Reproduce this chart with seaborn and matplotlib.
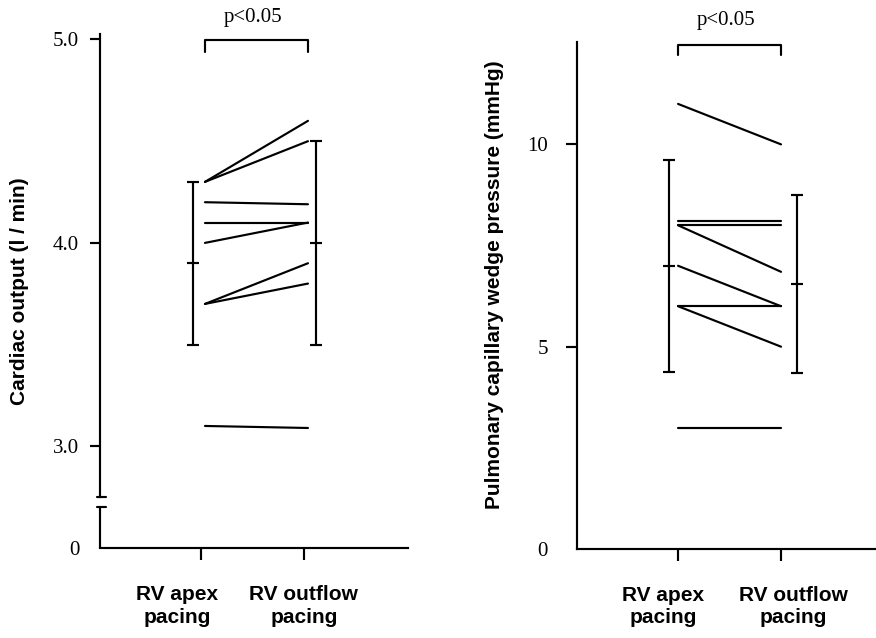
import numpy as np
import pandas as pd
import matplotlib
matplotlib.use("Agg")
import matplotlib.pyplot as plt
import matplotlib.transforms as mtransforms
import seaborn as sns

# ---------------- data ----------------
conditions = ["RV apex\npacing", "RV outflow\npacing"]

co_apex = [4.3, 4.3, 4.2, 4.1, 4.0, 3.7, 3.7, 3.1]
co_outflow = [4.6, 4.5, 4.19, 4.1, 4.1, 3.9, 3.8, 3.09]
co_mean = [3.9, 4.0]
co_sd = [0.4, 0.5]

pcwp_apex = [11.0, 8.1, 8.0, 8.0, 7.0, 6.0, 6.0, 3.0]
pcwp_outflow = [10.0, 8.1, 8.0, 6.85, 6.0, 6.0, 5.0, 3.0]
pcwp_mean = [7.0, 6.55]
pcwp_sd = [2.62, 2.2]

# left axis is broken: the value 2.5 on the axis stands for "0"
co_ticks = [2.5, 3.0, 4.0, 5.0]
co_ticklabels = ["0", "3.0", "4.0", "5.0"]
pcwp_ticks = [0, 5, 10]
pcwp_ticklabels = ["0", "5", "10"]

p_text = "p<0.05"
co_ylabel = "Cardiac output (l / min)"
pcwp_ylabel = "Pulmonary capillary wedge pressure (mmHg)"


def long_df(a, b):
    rows = []
    for i, (va, vb) in enumerate(zip(a, b)):
        rows.append({"patient": i, "pos": 0, "value": va})
        rows.append({"patient": i, "pos": 1, "value": vb})
    return pd.DataFrame(rows)


sns.set_theme(style="ticks")
plt.rcParams["font.family"] = ["Liberation Serif", "DejaVu Serif"]
for k in ["text.color", "axes.labelcolor", "xtick.color", "ytick.color",
          "axes.edgecolor"]:
    plt.rcParams[k] = "black"

LW = 1.55
SERIF = "Liberation Serif"
SANS = "Liberation Sans"

fig = plt.figure(figsize=(8.76, 6.38), dpi=100)
axL = fig.add_axes([100 / 876, 1 - 548 / 638, 308 / 876, 514 / 638])
axR = fig.add_axes([577 / 876, 1 - 549 / 638, 299 / 876, 507 / 638])


def panel(ax, a, b, mean, sd, err_x, xlim, ylim, ticks, ticklabels,
          xtick_pos, lab_x, br_top, br_drop, p_y, ylen, ypad):
    df = long_df(a, b)
    sns.lineplot(data=df, x="pos", y="value", units="patient", estimator=None,
                 color="black", lw=LW, ax=ax, legend=False)
    ax.errorbar(err_x, mean, yerr=sd, fmt="_", ms=9, mew=LW, capsize=4.5,
                capthick=LW, elinewidth=LW, color="black")
    ax.set_xlim(*xlim)
    ax.set_ylim(*ylim)
    for s in ["top", "right"]:
        ax.spines[s].set_visible(False)
    for s in ["left", "bottom"]:
        ax.spines[s].set_linewidth(LW)
        ax.spines[s].set_color("black")
    ax.set_yticks(ticks)
    ax.set_yticklabels(ticklabels, fontfamily=SERIF, fontsize=15,
                       color="black")
    ax.tick_params(axis="y", length=ylen, width=LW, pad=ypad, color="black")
    ax.yaxis.get_major_ticks()[0].tick1line.set_visible(False)
    ax.set_xticks(xtick_pos)
    ax.set_xticklabels(["", ""])
    ax.tick_params(axis="x", length=8.5, width=LW, color="black")
    ax.set_xlabel("")
    ax.set_ylabel("")
    ax.grid(False)
    # category labels
    trans = mtransforms.blended_transform_factory(ax.transData, ax.transAxes)
    for x, lab in zip(lab_x, conditions):
        ax.text(x, -0.072, lab, transform=trans, ha="center", va="top",
                fontfamily=SANS, fontweight="bold", fontsize=15,
                linespacing=1.25, color="black")
    # significance bracket
    ax.plot([0, 0, 1, 1], [br_drop, br_top, br_top, br_drop], color="black",
            lw=LW, clip_on=False)
    ax.text(0.47, p_y, p_text, ha="center", va="center", fontfamily=SERIF,
            fontsize=15, clip_on=False, color="black")


panel(axL, co_apex, co_outflow, co_mean, co_sd,
      err_x=[-0.117, 1.078], xlim=(-1.019, 1.971), ylim=(2.5, 5.027),
      ticks=co_ticks, ticklabels=co_ticklabels, xtick_pos=[-0.04, 0.96],
      lab_x=[-0.27, 0.96], br_top=4.998, br_drop=4.94, p_y=5.11,
      ylen=7, ypad=8)

panel(axR, pcwp_apex, pcwp_outflow, pcwp_mean, pcwp_sd,
      err_x=[-0.09, 1.158], xlim=(-0.981, 1.922), ylim=(0, 12.53),
      ticks=pcwp_ticks, ticklabels=pcwp_ticklabels, xtick_pos=[0, 1],
      lab_x=[-0.146, 1.117], br_top=12.45, br_drop=12.2, p_y=13.05,
      ylen=8, ypad=13)

# broken left axis
axL.spines["left"].set_bounds(2.749, 5.027)
tr = mtransforms.blended_transform_factory(axL.transAxes, axL.transData)
axL.plot([0, 0], [2.5, 2.70], color="black", lw=LW, transform=tr,
         clip_on=False, solid_capstyle="butt")
dx = 3 / 308
for yb in [2.749, 2.70]:
    axL.plot([-dx, 2 * dx], [yb, yb], color="black", lw=LW, transform=tr,
             clip_on=False)

fig.text(20 / 876, 1 - 291 / 638, co_ylabel, rotation=90, ha="center",
         va="center", fontfamily=SANS, fontweight="bold", fontsize=15,
         color="black")
fig.text(494 / 876, 1 - 285 / 638, pcwp_ylabel, rotation=90, ha="center",
         va="center", fontfamily=SANS, fontweight="bold", fontsize=15,
         color="black")

fig.savefig("out.png", dpi=100, facecolor="white")
